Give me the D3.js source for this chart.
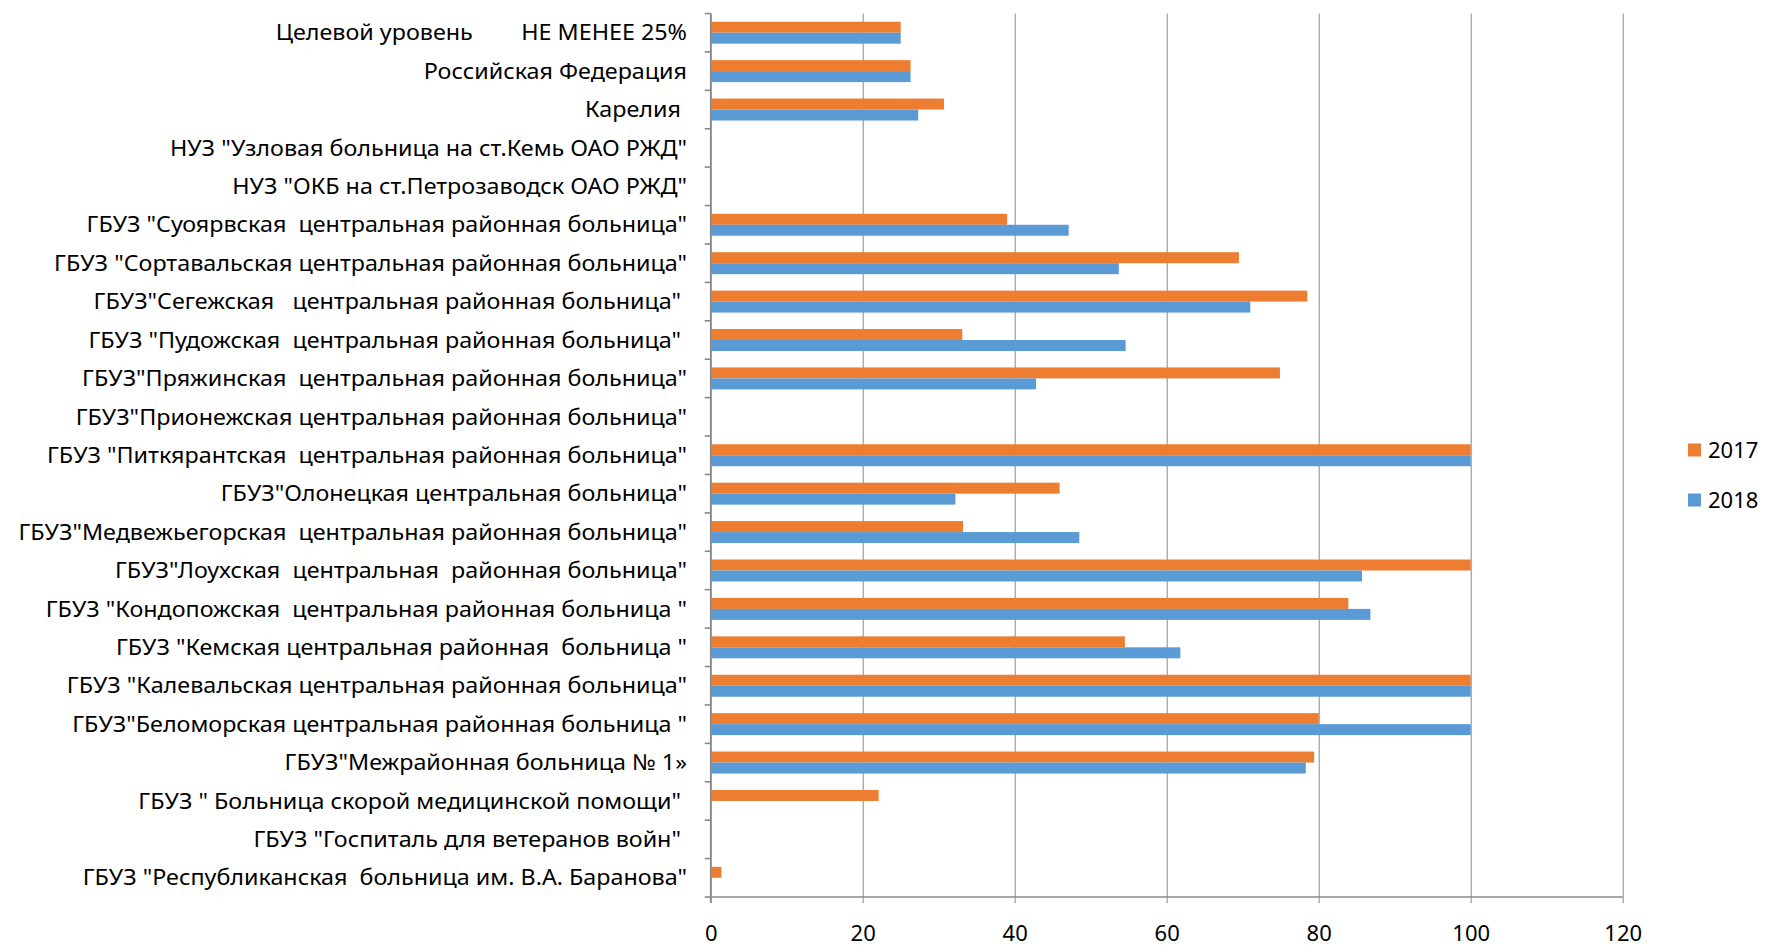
<!DOCTYPE html>
<html>
<head>
<meta charset="utf-8">
<script src="https://cdn.jsdelivr.net/npm/d3@7"></script>
<style>
  body { margin: 0; background: #fff; }
  svg { display: block; font-family: "Noto Sans", "Open Sans", sans-serif; }
  text { white-space: pre; }
</style>
</head>
<body>
<div id="chart"></div>
<script>
// categories top to bottom, as in the picture
const categories = [
    "Целевой уровень        НЕ МЕНЕЕ 25%",
    "Российская Федерация",
    "Карелия ",
    "НУЗ \"Узловая больница на ст.Кемь ОАО РЖД\"",
    "НУЗ \"ОКБ на ст.Петрозаводск ОАО РЖД\"",
    "ГБУЗ \"Суоярвская  центральная районная больница\"",
    "ГБУЗ \"Сортавальская центральная районная больница\"",
    "ГБУЗ\"Сегежская   центральная районная больница\" ",
    "ГБУЗ \"Пудожская  центральная районная больница\" ",
    "ГБУЗ\"Пряжинская  центральная районная больница\"",
    "ГБУЗ\"Прионежская центральная районная больница\"",
    "ГБУЗ \"Питкярантская  центральная районная больница\"",
    "ГБУЗ\"Олонецкая центральная больница\"",
    "ГБУЗ\"Медвежьегорская  центральная районная больница\"",
    "ГБУЗ\"Лоухская  центральная  районная больница\"",
    "ГБУЗ \"Кондопожская  центральная районная больница \"",
    "ГБУЗ \"Кемская центральная районная  больница \"",
    "ГБУЗ \"Калевальская центральная районная больница\"",
    "ГБУЗ\"Беломорская центральная районная больница \"",
    "ГБУЗ\"Межрайонная больница № 1»",
    "ГБУЗ \" Больница скорой медицинской помощи\" ",
    "ГБУЗ \"Госпиталь для ветеранов войн\" ",
    "ГБУЗ \"Республиканская  больница им. В.А. Баранова\""
];

const values2017 = [25, 26.3, 30.7, 0, 0, 39.0, 69.5, 78.5, 33.1, 74.9, 0, 100,
    45.9, 33.2, 100, 83.9, 54.5, 100, 80.0, 79.4, 22.1, 0, 1.4];
const values2018 = [25, 26.3, 27.3, 0, 0, 47.1, 53.7, 71.0, 54.6, 42.8, 0, 100,
    32.2, 48.5, 85.7, 86.8, 61.8, 100, 100, 78.3, 0, 0, 0];

const seriesNames = ["2017", "2018"];
const seriesColors = ["#ED7D31", "#5B9BD5"];
const xTicks = [0, 20, 40, 60, 80, 100, 120];

let width = 1767,
    height = 946,
    plot = {left: 710.7, right: 1622.7, top: 13.5, bottom: 897},
    gridColor = "#898989";

let svg = d3.select("#chart").append("svg")
    .attr("width", width)
    .attr("height", height);

svg.append("rect").attr("width", width).attr("height", height).attr("fill", "#fff");

let x = d3.scaleLinear()
    .domain([0, 120])
    .range([plot.left, plot.right]);

let y = d3.scaleBand()
    .domain(categories)
    .range([plot.top, plot.bottom]);

let ySeries = d3.scaleBand()
    .domain(seriesNames)
    .range([0, y.bandwidth()])
    .paddingOuter(0.75);

// gridlines + x tick labels
let plotH = plot.bottom - plot.top;
let xAxis = svg.append("g")
    .attr("transform", "translate(0," + plot.top + ")")
    .call(d3.axisBottom(x)
        .tickValues(xTicks)
        .tickSize(plotH + 6)
        .tickPadding(22));
xAxis.select(".domain").remove();
xAxis.selectAll(".tick line")
    .attr("stroke", gridColor)
    .attr("stroke-width", 1);
xAxis.selectAll(".tick text")
    .attr("font-family", "Noto Sans, sans-serif")
    .attr("font-size", 22)
    .attr("fill", "#000");

// bars
let rows = categories.map(function(c, i) {
    return {cat: c, vals: [values2017[i], values2018[i]]};
});

let rowG = svg.selectAll("g.row")
    .data(rows)
    .enter().append("g")
    .attr("class", "row")
    .attr("transform", function(d) { return "translate(0," + y(d.cat) + ")"; });

rowG.selectAll("rect")
    .data(function(d) {
        return d.vals.map(function(v, j) { return {name: seriesNames[j], value: v, color: seriesColors[j]}; });
    })
    .enter().append("rect")
    .filter(function(d) { return d.value > 0; })
    .attr("x", x(0))
    .attr("y", function(d) { return ySeries(d.name); })
    .attr("width", function(d) { return x(d.value) - x(0); })
    .attr("height", ySeries.bandwidth())
    .attr("fill", function(d) { return d.color; });

// axis lines
svg.append("line")
    .attr("x1", x(0)).attr("x2", x(120))
    .attr("y1", plot.bottom).attr("y2", plot.bottom)
    .attr("stroke", gridColor).attr("stroke-width", 1.6);
svg.append("line")
    .attr("x1", x(0)).attr("x2", x(0))
    .attr("y1", plot.top).attr("y2", plot.bottom + 6)
    .attr("stroke", gridColor).attr("stroke-width", 1.6);

// category ticks at band edges
let edges = d3.range(categories.length + 1).map(function(i) { return plot.top + i * y.step(); });
svg.selectAll("line.ytick")
    .data(edges)
    .enter().append("line")
    .attr("class", "ytick")
    .attr("x1", x(0) - 6).attr("x2", x(0))
    .attr("y1", function(d) { return d; })
    .attr("y2", function(d) { return d; })
    .attr("stroke", gridColor).attr("stroke-width", 1.6);

// category labels, squeezed/stretched a bit so the longest one fits like the original
let labelG = svg.append("g");
let labels = labelG.selectAll("text")
    .data(categories)
    .enter().append("text")
    .attr("x", 0)
    .attr("y", function(d) { return y(d) + y.bandwidth() / 2; })
    .attr("dy", "0.35em")
    .attr("text-anchor", "end")
    .attr("font-size", 22)
    .attr("fill", "#000")
    .text(function(d) { return d; });

let refLabel = labels.filter(function(d) { return d.indexOf("Медвежьегорская") >= 0; }).node();
let k = 669 / refLabel.getComputedTextLength();
labelG.attr("transform", "translate(687,0) scale(" + k + ",1)");

// legend
let legend = svg.selectAll("g.legend")
    .data(seriesNames)
    .enter().append("g")
    .attr("class", "legend")
    .attr("transform", function(d, i) { return "translate(1688," + (450 + i * 50) + ")"; });

legend.append("rect")
    .attr("x", 0).attr("y", -6.5)
    .attr("width", 13).attr("height", 13)
    .attr("fill", function(d, i) { return seriesColors[i]; });

legend.append("text")
    .attr("x", 20)
    .attr("dy", "0.35em")
    .attr("font-size", 22)
    .attr("fill", "#000")
    .text(function(d) { return d; });
</script>
</body>
</html>
